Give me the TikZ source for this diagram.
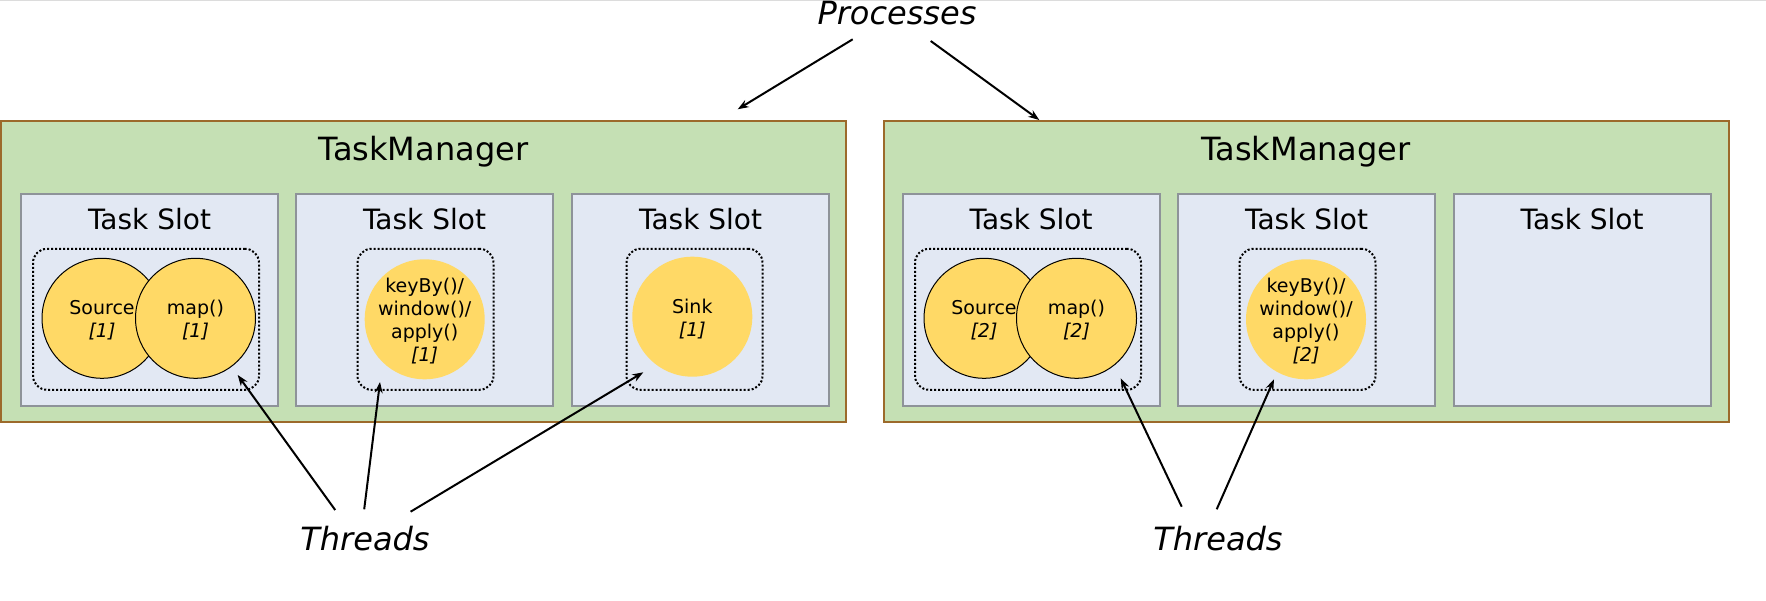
\documentclass[tikz,border=0pt]{standalone}
\usepackage{fontspec}
\setmainfont{DejaVu Sans}
\usetikzlibrary{arrows.meta}
\definecolor{tmfill}{HTML}{C5E0B4}
\definecolor{tmdraw}{HTML}{9C6A2B}
\definecolor{slotfill}{HTML}{E2E8F3}
\definecolor{slotdraw}{HTML}{8E9399}
\definecolor{opfill}{HTML}{FFD966}
\definecolor{topline}{HTML}{DCDCDC}
\tikzset{
  tmbox/.style={draw=tmdraw, fill=tmfill, line width=2pt, minimum width=845pt, minimum height=301pt, inner sep=0pt},
  slotbox/.style={draw=slotdraw, fill=slotfill, line width=2pt, minimum width=257pt, minimum height=211pt, inner sep=0pt},
  grpbox/.style={draw=black, line width=2pt, dash pattern=on 2pt off 2pt, rounded corners=14pt, minimum height=141pt, inner sep=0pt},
  opc/.style={circle, fill=opfill, minimum size=120pt, inner sep=0pt},
  opcs/.style={opc, draw=black, line width=1pt},
  optext/.style={align=center, font=\fontsize{19}{23}\selectfont},
  tmtitle/.style={anchor=base, font=\fontsize{32}{38}\selectfont},
  slottitle/.style={anchor=base, font=\fontsize{28}{34}\selectfont},
  bigital/.style={anchor=base, font=\fontsize{32}{38}\selectfont\itshape},
  arr/.style={line width=2pt, -{Stealth[length=11pt,width=8pt]}}
}
\begin{document}
\begin{tikzpicture}[x=1pt,y=-1pt]
\useasboundingbox (0,0) rectangle (1766,601);
\fill[white] (0,0) rectangle (1766,601);
\draw[topline, line width=2pt] (0,0.5) -- (1766,0.5);

% TaskManagers
\node[tmbox] (tm1) at (423.5,271.2) {};
\node[tmbox] (tm2) at (1306,271.2) {};
\node[tmtitle] (tm1t) at (423.5,161) {TaskManager};
\node[tmtitle] (tm2t) at (1306,161) {TaskManager};

% Slots
\foreach \n/\x in {s1/149.5, s2/424.5, s3/700.5, s4/1031, s5/1306.5, s6/1582}{
  \node[slotbox] (\n) at (\x,300) {};
  \node[slottitle] (\n t) at (\x,230) {Task Slot};
}

% Groups
\node[grpbox, minimum width=226pt] (g1) at (146,319.3) {};
\node[grpbox, minimum width=136pt] (g2) at (425.5,319.3) {};
\node[grpbox, minimum width=136pt] (g3) at (694.5,319.3) {};
\node[grpbox, minimum width=226pt] (g4) at (1028,319.3) {};
\node[grpbox, minimum width=136pt] (g5) at (1307.5,319.3) {};

% Operators slot 1
\node[opcs] (src1) at (102,318.3) {};
\node[optext] (src1t) at (102,320) {Source\\\textit{[1]}};
\node[opcs] (map1) at (195.5,318.3) {};
\node[optext] (map1t) at (195.5,320) {map()\\\textit{[1]}};
\node[opc] (key1) at (424.7,319.3) {};
\node[optext] (key1t) at (424.7,321) {keyBy()/\\window()/\\apply()\\\textit{[1]}};
\node[opc] (sink1) at (692.3,316.7) {};
\node[optext] (sink1t) at (692.3,319) {Sink\\\textit{[1]}};

% Operators slot 2
\node[opcs] (src2) at (984,318.3) {};
\node[optext] (src2t) at (984,320) {Source\\\textit{[2]}};
\node[opcs] (map2) at (1076.5,318.3) {};
\node[optext] (map2t) at (1076.5,320) {map()\\\textit{[2]}};
\node[opc] (key2) at (1306,319.3) {};
\node[optext] (key2t) at (1306,321) {keyBy()/\\window()/\\apply()\\\textit{[2]}};

% Labels
\node[bigital] (proc) at (897,25) {Processes};
\node[bigital] (thr1) at (365,550) {Threads};
\node[bigital] (thr2) at (1218,550) {Threads};

% Arrow ends
\coordinate (p1s) at (852.7,39.3);
\coordinate (p1e) at (737.7,109.3);
\coordinate (p2s) at (930.7,41);
\coordinate (p2e) at (1039.3,120);
\coordinate (t1a) at (335.2,510);
\coordinate (t1b) at (364.2,509.3);
\coordinate (t1c) at (410.6,511.7);
\coordinate (g1e) at (237.7,375);
\coordinate (g2e) at (380,382);
\coordinate (g3e) at (643.3,372.3);
\coordinate (t2a) at (1181.7,506.7);
\coordinate (t2b) at (1216.7,509.3);
\coordinate (g4e) at (1120.7,378.3);
\coordinate (g5e) at (1274,379.3);

\draw[arr] (p1s) -- (p1e);
\draw[arr] (p2s) -- (p2e);
\draw[arr] (t1a) -- (g1e);
\draw[arr] (t1b) -- (g2e);
\draw[arr] (t1c) -- (g3e);
\draw[arr] (t2a) -- (g4e);
\draw[arr] (t2b) -- (g5e);
\end{tikzpicture}
\end{document}
